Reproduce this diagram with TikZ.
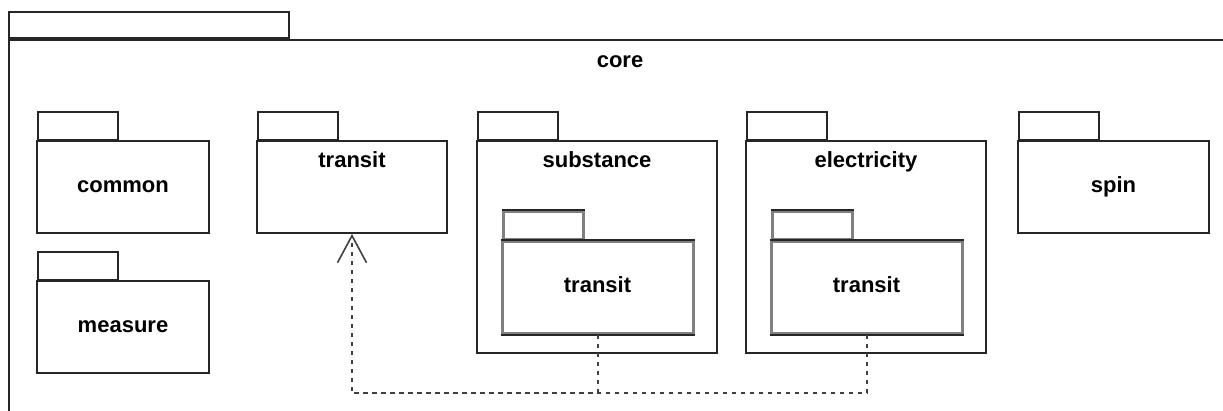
\documentclass[tikz,border=0pt]{standalone}
\usepackage{fontspec}
\setmainfont{Liberation Sans}
\usetikzlibrary{arrows.meta}

\tikzset{
  pkg/.style={draw=black!85, line width=2pt, fill=white, inner sep=0pt,
    font=\bfseries\fontsize{22}{26}\selectfont, text height=10pt, text depth=0pt},
  tab/.style={draw=black!85, line width=2pt, fill=white, inner sep=0pt,
    minimum width=80pt, minimum height=28pt, anchor=south west},
  innerpkg/.style={draw=black!50, line width=3pt},
  edge/.style={draw=black!85, line width=2pt},
  lbl/.style={font=\bfseries\fontsize{22}{26}\selectfont, inner sep=0pt, anchor=base},
  dep/.style={draw=black!75, line width=2pt, dash pattern=on 4.5pt off 4.5pt},
}

\begin{document}
\begin{tikzpicture}[x=1pt,y=-1pt]
\useasboundingbox (0,0) rectangle (1223,410);

% outer package
\node[tab, minimum width=280pt, minimum height=26pt] (core-tab) at (8,39) {};
\node[pkg, anchor=north west, minimum width=1224pt, minimum height=400pt] (core) at (8,39) {};
\node[lbl] (core-lbl) at (620,67) {core};

% simple packages
\node[tab] (common-tab) at (37,141) {};
\node[pkg, minimum width=172pt, minimum height=92pt] (common) at (123,187) {common};
\node[tab] (measure-tab) at (37,281) {};
\node[pkg, minimum width=172pt, minimum height=92pt] (measure) at (123,327) {measure};
\node[tab] (spin-tab) at (1018,141) {};
\node[pkg, minimum width=191pt, minimum height=92pt] (spin) at (1113.5,187) {spin};
\node[tab] (transit-tab) at (257,141) {};
\node[pkg, minimum width=190pt, minimum height=92pt] (transit) at (352,187) {};
\node[lbl] (transit-lbl) at ([yshift=-27pt]transit.north) {transit};

% substance
\node[tab] (substance-tab) at (477,141) {};
\node[pkg, minimum width=240pt, minimum height=212pt] (substance) at (597,247) {};
\node[lbl] (substance-lbl) at ([yshift=-27pt]substance.north) {substance};
\node[tab, innerpkg] (sub-transit-tab) at (502,241) {};
\draw[edge] (sub-transit-tab.north west) -- (sub-transit-tab.north east);
\node[pkg, innerpkg, minimum width=191pt, minimum height=92pt] (sub-transit) at (597.5,287) {transit};
\draw[edge] (sub-transit.north west) -- (sub-transit.north east);
\draw[edge] (sub-transit.south west) -- (sub-transit.south east);

% electricity
\node[tab] (electricity-tab) at (746,141) {};
\node[pkg, minimum width=240pt, minimum height=212pt] (electricity) at (866,247) {};
\node[lbl] (electricity-lbl) at ([yshift=-27pt]electricity.north) {electricity};
\node[tab, innerpkg] (elec-transit-tab) at (771,241) {};
\draw[edge] (elec-transit-tab.north west) -- (elec-transit-tab.north east);
\node[pkg, innerpkg, minimum width=191pt, minimum height=92pt] (elec-transit) at (866.5,287) {transit};
\draw[edge] (elec-transit.north west) -- (elec-transit.north east);
\draw[edge] (elec-transit.south west) -- (elec-transit.south east);

% dependencies
\coordinate (bend) at (352,393);
\draw[dep, -{Straight Barb[length=27pt,width=29pt,line width=1.6pt]}] (sub-transit.south) |- (bend) -- (transit.south);
\draw[dep] (elec-transit.south) |- (bend);
\end{tikzpicture}
\end{document}
